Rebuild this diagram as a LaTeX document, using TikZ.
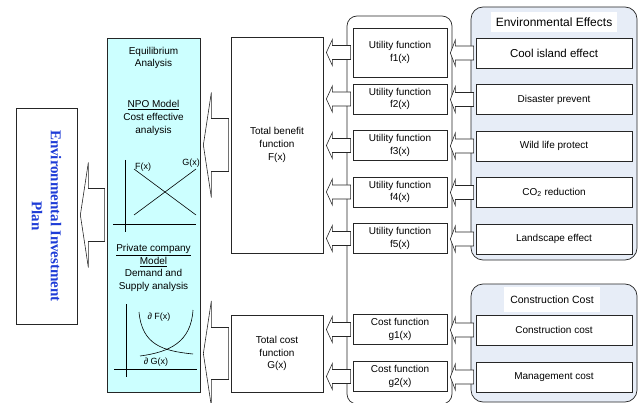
\documentclass[tikz,border=0pt]{standalone}
\usepackage{fontspec}
\setmainfont{Liberation Sans}
\newfontfamily\planfont{Liberation Serif}
\usetikzlibrary{positioning,calc}

\definecolor{eqcyan}{RGB}{204,255,255}
\definecolor{grpblue}{RGB}{231,237,247}
\definecolor{planblue}{RGB}{30,60,215}

\newcommand{\txt}{\fontsize{10}{12.7}\selectfont}
\newcommand{\hollowarrow}[5]{%
  \draw[blockarrow] let \p1=(#1.west), \p2=(#2.east) in
    (\x2+3pt,\y1) -- (\x2+3pt+#5,\y1+#4) -- (\x2+3pt+#5,\y1+#3) -- (\x1-2pt,\y1+#3)
    -- (\x1-2pt,\y1-#3) -- (\x2+3pt+#5,\y1-#3) -- (\x2+3pt+#5,\y1-#4) -- cycle;}

\tikzset{
  fbox/.style={draw=black!85, fill=white, minimum width=94pt, minimum height=30pt,
    inner sep=0pt, align=center, font=\txt},
  effect/.style={draw=black!85, fill=white, minimum width=156pt, minimum height=30pt,
    inner sep=0pt, font=\txt},
  bigbox/.style={draw=black!85, fill=white, minimum width=92pt, inner sep=0pt,
    align=center, font=\txt},
  group/.style={draw=black!85, rounded corners=12pt, minimum width=166pt},
  grptitle/.style={fill=white, inner sep=0pt},
  lbl/.style={font=\fontsize{9}{11}\selectfont, inner sep=0pt},
  blockarrow/.style={draw=black!85, fill=white, line width=0.6pt, line join=miter}
}

\begin{document}
\begin{tikzpicture}[x=1pt,y=-1pt,node distance=46.5pt,on grid,line width=0.7pt]
\useasboundingbox (0,0) rectangle (639,403);

% effects and costs on the right
\node[group, fill=grpblue, minimum height=253pt] (envgrp) at (554,133.5) {};
\node[grptitle, minimum width=126pt, minimum height=20pt, font=\fontsize{12}{14}\selectfont] (envtitle) at (554,22.5) {Environmental Effects};
\node[effect, font=\fontsize{11.5}{14}\selectfont] (cool) at (554,53) {Cool island effect};
\node[effect] [below=of cool] (disaster) {Disaster prevent};
\node[effect] [below=of disaster] (wild) {Wild life protect};
\node[effect] [below=of wild] (co2) {CO\textsubscript{2} reduction};
\node[effect] [below=of co2] (land) {Landscape effect};

\node[group, fill=grpblue, minimum height=118pt] (costgrp) at (554,343) {};
\node[grptitle, minimum width=96pt, minimum height=25pt, font=\fontsize{10.5}{13}\selectfont] (costtitle) at (552,299.5) {Construction Cost};
\node[effect] (ccost) at (554,330) {Construction cost};
\node[effect] [below=47pt of ccost] (mcost) {Management cost};

% function column
\node[draw=black!85, rounded corners=10pt, minimum width=105pt, minimum height=388pt] (funcs) at (399.5,210) {};
\node[fbox, minimum height=49pt] (f1) at (400,52.5) {Utility function\\f1(x)};
\node[fbox] [below=of f1] (f2) {Utility function\\f2(x)};
\node[fbox] [below=of f2] (f3) {Utility function\\f3(x)};
\node[fbox] [below=of f3] (f4) {Utility function\\f4(x)};
\node[fbox] [below=of f4] (f5) {Utility function\\f5(x)};
\node[fbox] (g1) at (400,329.5) {Cost function\\g1(x)};
\node[fbox] [below=47pt of g1] (g2) {Cost function\\g2(x)};

% totals
\node[bigbox, minimum height=216pt] (benefit) at (277,145) {Total benefit\\function\\F(x)};
\node[bigbox, minimum height=77pt] (cost) at (277,353.5) {Total cost\\function\\G(x)};

% equilibrium analysis
\node[draw=black!85, fill=eqcyan, minimum width=93pt, minimum height=354pt] (equil) at (153.5,215) {};
\node[font=\txt, align=center] (eqtitle) at (153.5,58) {Equilibrium\\Analysis};
\node[font=\txt, align=center] (npo) at (153.5,118) {\underline{NPO Model}\\Cost effective\\analysis};
\node[font=\txt, align=center] (priv) at (153.5,268) {\underline{Private company}\\\underline{Model}\\Demand and\\Supply analysis};

\draw[line width=0.6pt] (125,160) -- (125,232) (113,224) -- (196,224);
\draw[line width=0.6pt] (134,169) -- (196,215) (134,215) -- (196,169);
\node[lbl] (flbl) at (143,167) {F(x)};
\node[lbl] (glbl) at (191,163) {G(x)};

\draw[line width=0.6pt] (126,304) -- (126,377) (114,369) -- (197,369);
\draw[line width=0.6pt] (139,312) .. controls (142,345) and (163,351) .. (193,354);
\draw[line width=0.6pt] (140,356) .. controls (170,352) and (191,342) .. (193,310);
\node[lbl] (dflbl) at (159,317) {∂ F(x)};
\node[lbl] (dglbl) at (156,362) {∂ G(x)};

% plan
\node[draw=black!85, fill=white, minimum width=61pt, minimum height=216pt] (plan) at (46.5,216) {};
\node[rotate=-90, align=center, text=planblue, font=\planfont\bfseries\fontsize{15}{19}\selectfont] (plantext) at (plan) {Environmental Investment\\Plan};

% arrows
\hollowarrow{equil}{plan}{26.5pt}{52.5pt}{8pt}
\hollowarrow{benefit}{equil}{26.5pt}{52.5pt}{8pt}
\hollowarrow{cost}{equil}{26pt}{52.5pt}{8pt}
\foreach \src/\dst in {f1/benefit,f2/benefit,f3/benefit,f4/benefit,f5/benefit,g1/cost,g2/cost}
  \hollowarrow{\src}{\dst}{7pt}{13pt}{6pt};
\foreach \src/\dst in {cool/f1,disaster/f2,wild/f3,co2/f4,land/f5,ccost/g1,mcost/g2}
  \hollowarrow{\src}{\dst}{7pt}{13pt}{5pt};
\end{tikzpicture}
\end{document}
